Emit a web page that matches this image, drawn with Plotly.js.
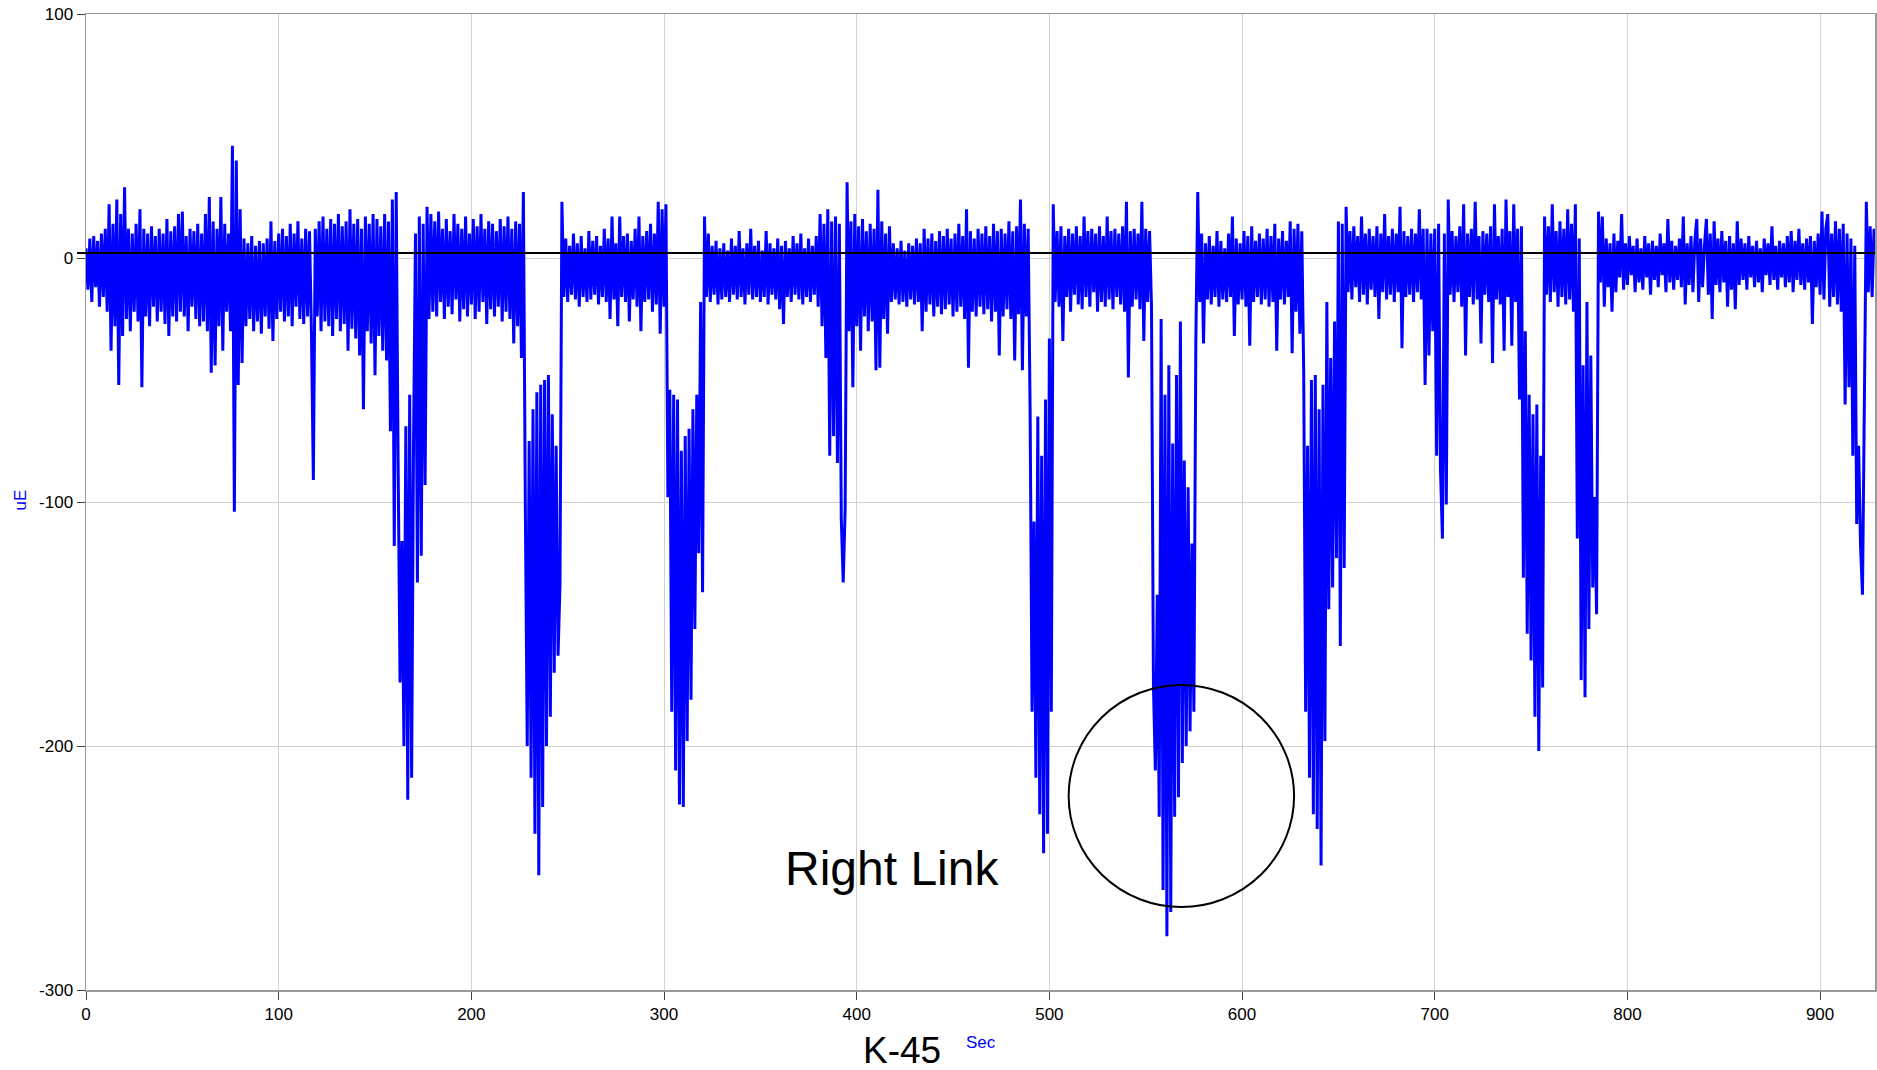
<!DOCTYPE html>
<html><head><meta charset="utf-8">
<script src="https://cdn.plot.ly/plotly-3.0.1.min.js"></script>
<style>html,body{margin:0;padding:0;background:#fff;overflow:hidden}#chart{width:1877px;height:1070px}</style>
</head><body><div id="chart"></div>
<script>
// Strain samples (uE), one per second, in 100-second chunks
const uE_000 = [
 4, -13, 8, -18, 9, -12, 7, -20, 10, -16,
 12, -22, 22, -38, 14, -28, 24, -52, 18, -32,
 29, -25, 12, -30, 10, -22, 14, -26, 20, -53,
 12, -24, 10, -28, 13, -20, 9, -26, 12, -22,
 10, -27, 16, -32, 11, -24, 13, -26, 18, -22,
 19, -24, 9, -30, 12, -20, 11, -25, 14, -28,
 10, -26, 18, -30, 25, -47, 15, -44, 12, -28,
 25, -38, 14, -22, 10, -30, 46, -104, 40, -52,
 20, -43, 8, -28, 6, -25, 9, -30, 5, -26,
 7, -31, 6, -24, 8, -29, 15, -34, 7, -25];
const uE_100 = [
 10, -22, 12, -26, 9, -24, 14, -28, 10, -20,
 15, -25, 8, -27, 12, -24, 11, -30, -91, 12,
 -24, 15, -30, 17, -26, 12, -28, 16, -32, 14,
 -25, 18, -30, 13, -27, 15, -38, 20, -29, 14,
 -33, 16, -40, 12, -62, 17, -30, 14, -35, 18,
 -48, 16, -32, 13, -38, 18, -42, 15, -71, 24,
 -118, 27, -85, -174, -116, -200, -69, -222, -56, -213,
 -75, 10, -133, 17, -122, 14, -93, 21, -25, 18,
 -22, 15, -24, 19, -18, 12, -25, 16, -20, 11,
 -23, 18, -17, 14, -26, 12, -21, 17, -24, 10];
const uE_200 = [
 -19, 16, -25, 13, -22, 18, -18, 12, -27, 15,
 -21, 14, -24, 11, -20, 16, -26, 13, -22, 17,
 -25, 12, -35, 15, -28, 14, -41, 27, -100, -200,
 -75, -213, -62, -236, -55, -253, -52, -225, -50, -200,
 -48, -188, -64, -170, -77, -163, -134, 23, -16, 8,
 -18, 5, -15, 10, -17, 6, -20, 9, -16, 4,
 -18, 11, -17, 7, -15, 9, -19, 5, -16, 12,
 -18, 8, -25, 17, -17, 6, -28, 17, -16, 9,
 -18, 10, -26, 7, -17, 12, -20, 17, -30, 9,
 -18, 11, -17, 14, -22, 10, -19, 23, -31, 20];
const uE_300 = [
 -20, 22, -98, -54, -186, -56, -210, -58, -224, -79,
 -225, -73, -198, -70, -181, -62, -152, -56, -121, -18,
 -137, 17, -16, 10, -18, 5, -15, 7, -19, 4,
 -17, 6, -16, 3, -18, 8, -15, 5, -17, 11,
 -16, 4, -19, 6, -15, 12, -17, 5, -16, 7,
 -18, 3, -16, 11, -19, 6, -15, 4, -17, 8,
 -21, 5, -27, 7, -16, 4, -18, 9, -15, 6,
 -17, 10, -19, 4, -16, 8, -18, 5, -15, 9,
 -20, 18, -28, 14, -41, 20, -81, 15, -73, 17,
 -84, 14, -107, -133, -103, 31, -30, 15, -53, 18];
const uE_400 = [
 -28, 13, -38, 16, -24, 11, -30, 14, -26, 12,
 -46, 28, -45, 15, -25, 10, -31, 13, -18, 6,
 -17, 4, -19, 7, -18, 3, -20, 6, -17, 5,
 -19, 8, -18, 6, -30, 12, -22, 8, -19, 10,
 -24, 7, -20, 11, -23, 9, -21, 12, -19, 8,
 -24, 10, -22, 14, -20, 9, -25, 20, -45, 11,
 -22, 8, -24, 12, -20, 10, -23, 13, -21, 9,
 -26, 14, -22, 11, -40, 12, -24, 10, -21, 15,
 -25, 11, -42, 13, -23, 24, -46, 14, -24, 12,
 -62, -186, -108, -213, -65, -228, -81, -244, -58, -236];
const uE_500 = [
 -33, -186, 22, -18, 11, -20, 13, -34, 9, -16,
 12, -22, 10, -15, 13, -19, 9, -21, 17, -16,
 11, -20, 12, -14, 10, -22, 13, -18, 9, -20,
 17, -17, 11, -21, 12, -16, 10, -19, 13, -22,
 23, -49, 11, -20, 12, -17, 10, -21, 23, -34,
 12, -18, 11, -20, -175, -210, -138, -229, -25, -259,
 -56, -278, -44, -268, -76, -229, -48, -221, -26, -207,
 -83, -200, -94, -194, -117, -186, -35, 27, -18, 10,
 -35, 6, -17, 9, -19, 5, -16, 11, -20, 7,
 -17, 4, -18, 10, -16, 17, -32, 8, -19, 6];
const uE_600 = [
 -17, 11, -20, 9, -36, 13, -18, 7, -16, 10,
 -19, 8, -17, 12, -20, 9, -18, 14, -38, 8,
 -17, 11, -19, 7, -16, 15, -39, 12, -22, 14,
 -31, 11, -47, -186, -77, -213, -50, -228, -48, -234,
 -62, -249, -52, -198, -18, -144, -41, -135, -26, -123,
 15, -159, 14, -127, 21, -14, 11, -17, 13, -12,
 9, -18, 17, -15, 10, -19, 12, -13, 9, -16,
 13, -25, 10, -14, 18, -17, 9, -15, 12, -18,
 10, -14, 21, -37, 11, -16, 9, -15, 12, -18,
 10, -14, 20, -17, 12, -52, 12, -40, 10, -30];
const uE_700 = [
 12, -81, 14, -87, -115, 10, -101, 24, -15, 11,
 -18, 9, -14, 13, -20, 22, -40, 10, -16, 12,
 -19, 23, -17, 9, -35, 11, -15, 10, -18, 13,
 -43, 22, -17, 9, -19, 12, -38, 24, -16, 11,
 -36, 22, -18, 12, -58, 13, -131, -30, -154, -56,
 -165, -64, -188, -60, -202, -81, -176, 17, -15, 13,
 -18, 22, -14, 11, -20, 15, -16, 12, -19, 20,
 -17, 14, -22, 22, -115, 8, -173, -44, -180, -18,
 -152, -40, -135, -98, -146, 19, -10, 17, -20, 8,
 -12, 6, -22, 10, -14, 7, -8, 18, -13, 6];
const uE_800 = [
 -11, 9, -7, 5, -14, 8, -10, 4, -13, 9,
 -8, 6, -15, 7, -9, 5, -12, 10, -7, 6,
 -14, 16, -10, 7, -13, 5, -9, 8, -12, 17,
 -19, 6, -11, 9, -14, 7, 16, -18, 8, -12,
 5, 16, -15, 10, -25, 15, -11, 8, -14, 11,
 -10, 7, -20, 9, -13, 6, -21, 15, -11, 8,
 -9, 6, -13, 9, -8, 5, -12, 7, -10, 4,
 -14, 8, -7, 6, -11, 13, -9, 5, -13, 7,
 -8, 6, -12, 9, -10, 11, -14, 7, -9, 12,
 -11, 6, -13, 8, -10, 9, -27, 7, -12, 10];
const uE_900 = [
 -15, 19, -17, 12, 18, -20, 10, -16, 15, -19,
 12, -22, 14, -60, 10, -53, 8, -81, 5, -109,
 -77, -118, -138, -40, 23, -14, 13, -16, 12];
const chunkStart = [0, 100, 200, 300, 400, 500, 600, 700, 800, 900];

const xTickVals = [0, 100, 200, 300, 400, 500, 600, 700, 800, 900];
const yTickVals = [-300, -200, -100, 0, 100];
const yTickText = ['-300', '-200', '-100', '0', '100'];
const referenceLevel = 2;
const circleMark = {x0: 510, x1: 627, y0: -266, y1: -175};
const noteText = 'Right Link';
const noteAt = {x: 418.5, y: -250};

const chunks = [uE_000, uE_100, uE_200, uE_300, uE_400, uE_500, uE_600, uE_700, uE_800, uE_900];
const sec = [], val = [];
chunks.forEach((arr, k) => arr.forEach((v, i) => { sec.push(chunkStart[k] + i); val.push(v); }));

const FONT = 'Liberation Sans, Arial, Helvetica, sans-serif';

Plotly.newPlot('chart', [{
  type: 'scatter', mode: 'lines', x: sec, y: val,
  line: {color: '#0000ff', width: 3}, hoverinfo: 'skip', showlegend: false
}], {
  width: 1877, height: 1070,
  margin: {l: 86, r: 2, t: 14, b: 80},
  paper_bgcolor: '#ffffff', plot_bgcolor: '#ffffff',
  font: {family: FONT, size: 17, color: '#000'},
  showlegend: false,
  xaxis: {
    range: [0, 928.5], tickvals: xTickVals, ticktext: xTickVals.map(String),
    showgrid: true, gridcolor: '#d0d0d0', gridwidth: 1, zeroline: false,
    showline: true, linecolor: '#999999', linewidth: 1.5, mirror: true,
    ticks: 'outside', ticklen: 8, tickcolor: '#444', tickwidth: 1,
    tickfont: {family: FONT, size: 17, color: '#000'}
  },
  yaxis: {
    range: [-300, 100], tickvals: yTickVals, ticktext: yTickText,
    showgrid: true, gridcolor: '#d0d0d0', gridwidth: 1, zeroline: false,
    showline: true, linecolor: '#999999', linewidth: 1.5, mirror: true,
    ticks: 'outside', ticklen: 8, tickcolor: '#444', tickwidth: 1,
    tickfont: {family: FONT, size: 17, color: '#000'}
  },
  shapes: [
    {type: 'line', xref: 'paper', yref: 'y', x0: -0.005, x1: 1, y0: referenceLevel, y1: referenceLevel,
     line: {color: '#000', width: 2}, layer: 'above'},
    {type: 'circle', xref: 'x', yref: 'y', x0: circleMark.x0, x1: circleMark.x1, y0: circleMark.y0, y1: circleMark.y1,
     line: {color: '#000', width: 2}, layer: 'above'}
  ],
  annotations: [
    {text: noteText, x: noteAt.x, y: noteAt.y, xref: 'x', yref: 'y', showarrow: false,
     xanchor: 'center', yanchor: 'middle', font: {family: FONT, size: 48, color: '#000'}},
    {text: 'K-45', x: 0.4563, y: -0.062, xref: 'paper', yref: 'paper', showarrow: false,
     xanchor: 'center', yanchor: 'middle', font: {family: FONT, size: 37, color: '#000'}},
    {text: 'Sec', x: 0.5, y: -0.054, xref: 'paper', yref: 'paper', showarrow: false,
     xanchor: 'center', yanchor: 'middle', font: {family: FONT, size: 17, color: '#0000ff'}},
    {text: 'uE', x: -0.0367, y: 0.502, xref: 'paper', yref: 'paper', showarrow: false, textangle: -90,
     xanchor: 'center', yanchor: 'middle', font: {family: FONT, size: 17, color: '#0000ff'}}
  ]
}, {staticPlot: true, displayModeBar: false});
</script></body></html>
